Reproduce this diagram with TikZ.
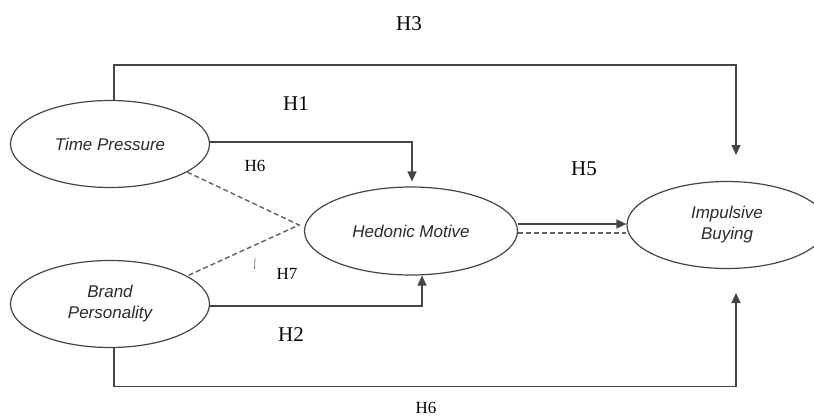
\documentclass[tikz,border=0pt]{standalone}
\usepackage{fontspec}
\setmainfont{Liberation Serif}
\setsansfont{Liberation Sans}
\usepackage{xcolor}
\usepackage{tikz}
\usetikzlibrary{arrows.meta,positioning,shapes.geometric}

\definecolor{linegray}{HTML}{454545}
\definecolor{textgray}{HTML}{2A2A2A}

\begin{document}
\begin{tikzpicture}[x=1pt, y=-1pt,
    latent/.style={ellipse, draw=linegray, line width=1.2pt, minimum width=199pt,
        minimum height=87pt, inner sep=0pt, align=center, text=textgray,
        font=\sffamily\itshape\fontsize{17}{21}\selectfont},
    hbig/.style={font=\fontsize{21}{21}\selectfont},
    hsmall/.style={font=\fontsize{17}{17}\selectfont},
    link/.style={draw=linegray, line width=1.4pt},
    tipped/.style={link, -{Triangle[length=10pt,width=9pt]}},
    moder/.style={draw=linegray!85, line width=1.4pt, dash pattern=on 5pt off 3pt}]
    \clip (0,0) rectangle (814,418);

    % Constructs
    \node[latent] (tp) at (110,144) {Time Pressure};
    \node[latent] (bp) at (110,304) {Brand\\Personality};
    \node[latent, minimum width=213pt, minimum height=88pt] (hm) at (411,231) {Hedonic Motive};
    \node[latent, minimum width=200pt] (ib) at (727,225) {Impulsive\\Buying};

    % Free arrow ends above and below Impulsive Buying
    \coordinate (ibtop) at (736,155);
    \coordinate (ibbot) at (736,293);
    \coordinate (apex) at (299,225);

    % Direct paths
    \draw[tipped] ([xshift=4pt]tp.north) -- ++(0,-35) -| (ibtop);
    \draw[tipped, shorten >=5pt] ([yshift=2pt]tp.east) -| ([xshift=1pt]hm.north);
    \draw[tipped] ([yshift=-2pt]bp.east) -| ([xshift=11pt]hm.south);
    \draw[tipped] ([xshift=4pt]bp.south) -- ++(0,38.5) -| (ibbot);
    \draw[tipped] ([yshift=7pt]hm.east) -- ([yshift=1pt]ib.west);
    \draw[moder] ([yshift=-2pt]hm.east) -- ([yshift=-8pt]ib.west);

    % Moderating paths
    \draw[moder] (tp.-20) -- (apex) -- (bp.20);
    \draw[linegray!70, line width=0.8pt] (255,258) -- (254.5,269);

    % Hypothesis labels
    \node[hbig] (h3) at (409,24) {H3};
    \node[hbig] (h1) at (296,104) {H1};
    \node[hsmall] (h6a) at (255,166) {H6};
    \node[hbig] (h5) at (584,169) {H5};
    \node[hsmall] (h7) at (287,274) {H7};
    \node[hbig] (h2) at (291,335) {H2};
    \node[hsmall] (h6b) at (426,408) {H6};
\end{tikzpicture}
\end{document}
